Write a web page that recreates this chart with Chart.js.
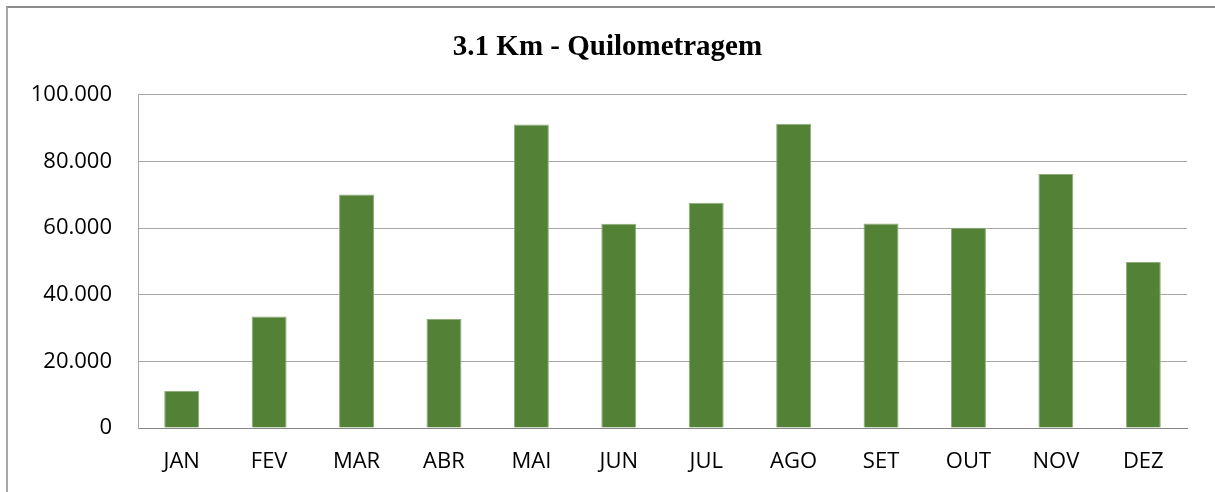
<!DOCTYPE html>
<html>
<head>
<meta charset="utf-8">
<script src="https://cdn.jsdelivr.net/npm/chart.js@4/dist/chart.umd.min.js"></script>
<style>
  html, body { margin: 0; padding: 0; background: #fff; overflow: hidden; }
  #wrap { position: relative; width: 1215px; height: 492px; }
  #frame { position: absolute; left: 6px; top: 6px; width: 1220px; height: 500px;
           border-left: 2px solid #a6a6a6; border-top: 2px solid #8c8c8c; box-sizing: border-box; }
  canvas { position: absolute; left: 0; top: 0; }
</style>
</head>
<body>
<div id="wrap">
  <div id="frame"></div>
  <canvas id="km" width="1215" height="492"></canvas>
</div>
<script>
// months and km travelled per month
const months = ['JAN', 'FEV', 'MAR', 'ABR', 'MAI', 'JUN', 'JUL', 'AGO', 'SET', 'OUT', 'NOV', 'DEZ'];
const kmValues = [11100, 33500, 70100, 32700, 91100, 61300, 67600, 91300, 61400, 60100, 76200, 49800];
const yTicks = [0, 20000, 40000, 60000, 80000, 100000];

const fmtThousands = v => v === 0 ? '0' : v.toString().replace(/\B(?=(\d{3})+(?!\d))/g, '.');

new Chart(document.getElementById('km'), {
  type: 'bar',
  data: {
    labels: months,
    datasets: [{
      label: 'Km',
      data: kmValues,
      backgroundColor: '#538135',
      borderColor: '#8fae7c',
      borderWidth: { left: 1, right: 1, top: 1, bottom: 0 },
      categoryPercentage: 1,
      barPercentage: 0.4
    }]
  },
  options: {
    responsive: false,
    animation: false,
    layout: { padding: { left: 28, right: 28, top: 0, bottom: 0 } },
    plugins: {
      legend: { display: false },
      tooltip: { enabled: false },
      title: {
        display: true,
        text: '3.1 Km - Quilometragem',
        color: '#000',
        font: { family: 'Liberation Serif', size: 29, weight: 'bold' },
        padding: { top: 30, bottom: 30 }
      }
    },
    scales: {
      x: {
        grid: { display: false, drawTicks: false },
        border: { color: '#868686', width: 1 },
        ticks: { color: '#000', padding: 21, font: { family: 'Open Sans', size: 22 } },
        afterFit(scale) { scale.height = 64; }
      },
      y: {
        min: 0,
        max: 100000,
        afterBuildTicks(scale) { scale.ticks = yTicks.map(v => ({ value: v })); },
        grid: { color: '#a6a6a6', lineWidth: 1, drawTicks: false },
        border: { color: '#a6a6a6', width: 1 },
        ticks: {
          color: '#000',
          padding: 26,
          font: { family: 'Open Sans', size: 22 },
          callback: v => fmtThousands(v)
        },
        afterFit(scale) { scale.width = 110; }
      }
    }
  }
});
</script>
</body>
</html>
